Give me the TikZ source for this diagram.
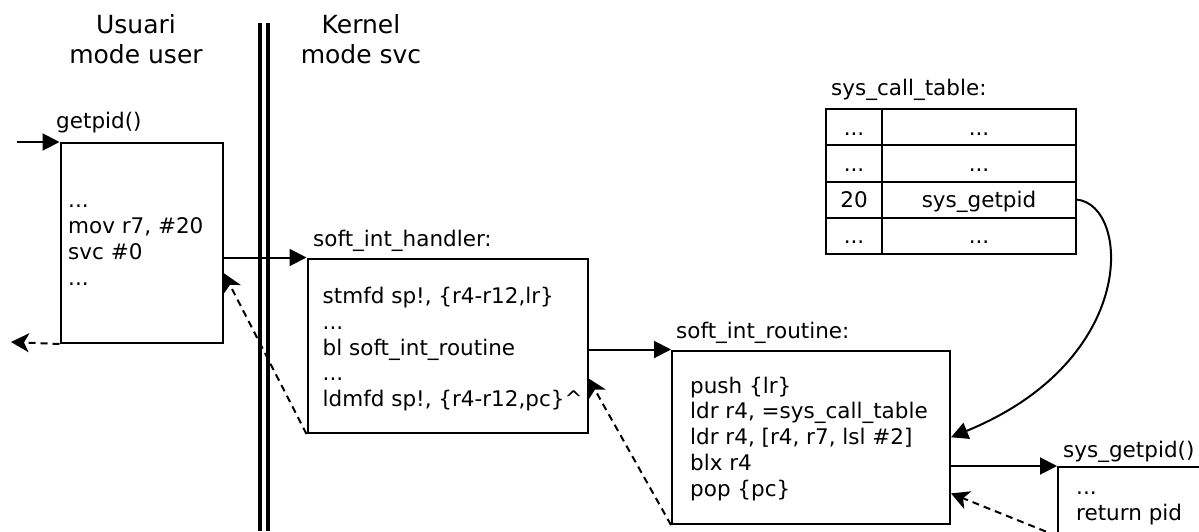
\documentclass[tikz,border=0pt]{standalone}
\usepackage{fontspec}
\setmainfont{DejaVu Sans}
\usetikzlibrary{arrows.meta,calc}

\tikzset{
  codefont/.style={font=\fontsize{21.5}{25.7}\selectfont},
  titlefont/.style={font=\fontsize{25}{30}\selectfont},
  codebox/.style={draw, line width=2pt, rectangle, inner sep=0pt, anchor=north west},
  % multi-line blocks: the base anchor sits on the last line
  codetext/.style={codefont, align=left, inner sep=0pt, anchor=base west},
  boxlabel/.style={codefont, inner sep=0pt, anchor=base west},
  title/.style={titlefont, align=center, inner sep=0pt, anchor=base},
  cell/.style={draw, line width=2pt, rectangle, inner sep=0pt, anchor=north west,
    minimum height=36.25pt, codefont, text height=16pt, text depth=0pt},
  flow/.style={line width=2pt, -{Triangle[length=17pt,width=17pt]}},
  back/.style={line width=2pt, dash pattern=on 7pt off 5pt,
    -{Stealth[length=18pt,width=19pt,inset=5pt]}},
  divider/.style={line width=4pt},
}

\begin{document}
\begin{tikzpicture}[x=1pt,y=-1pt]
\useasboundingbox (0,0) rectangle (1199,531);
\fill[white] (0,0) rectangle (1199,531);
\clip (0,0) rectangle (1199,531);

% column titles
\node[title] (tuser) at (136,63) {Usuari\\mode user};
\node[title] (tkern) at (361,63) {Kernel\\mode svc};

% user / kernel boundary
\draw[divider] (260,23) -- (260,531);
\draw[divider] (268,23) -- (268,531);

% getpid()
\node[codebox, minimum width=162.5pt, minimum height=200pt] (getpid) at (59.5,142) {};
\node[boxlabel] (getpidlbl) at (56,128) {getpid()};
\node[codetext] (getpidtxt) at (68,285) {...\\mov r7, \#20\\svc \#0\\...};

% soft_int_handler
\node[codebox, minimum width=280pt, minimum height=174.5pt] (handler) at (306.5,257.5) {};
\node[boxlabel] (handlerlbl) at (313,246) {soft\_int\_handler:};
\node[codetext] (handlertxt) at (322.5,406.5) {stmfd sp!, \{r4-r12,lr\}\\...\\bl soft\_int\_routine\\...\\ldmfd sp!, \{r4-r12,pc\}\textasciicircum};

% soft_int_routine
\node[codebox, minimum width=278pt, minimum height=173.5pt] (routine) at (671,349.5) {};
\node[boxlabel] (routinelbl) at (676,338) {soft\_int\_routine:};
\node[codetext] (routinetxt) at (690,496) {push \{lr\}\\ldr r4, =sys\_call\_table\\ldr r4, [r4, r7, lsl \#2]\\blx r4\\pop \{pc\}};

% sys_getpid()
\node[codebox, minimum width=180pt, minimum height=68pt] (sysgetpid) at (1057,466) {};
\node[boxlabel] (sysgetpidlbl) at (1063,457) {sys\_getpid()};
\node[codetext] (sysgetpidtxt) at (1076,520.5) {...\\return pid};

% sys_call_table
\node[boxlabel] (tablelbl) at (831,95) {sys\_call\_table:};
\node[cell, minimum width=56pt]  (t11) at (825,108) {...};
\node[cell, minimum width=194pt] (t12) at (881,108) {...};
\node[cell, minimum width=56pt]  (t21) at (825,144.25) {...};
\node[cell, minimum width=194pt] (t22) at (881,144.25) {...};
\node[cell, minimum width=56pt]  (t31) at (825,180.5) {20};
\node[cell, minimum width=194pt] (t32) at (881,180.5) {sys\_getpid};
\node[cell, minimum width=56pt]  (t41) at (825,216.75) {...};
\node[cell, minimum width=194pt] (t42) at (881,216.75) {...};

% free ends and return points
\coordinate (callin) at (17,142);
\coordinate (retout) at (11,342);
\coordinate (ret1) at ($(getpid.north east)!0.65!(getpid.south east)$);
\coordinate (ret2) at ($(handler.north east)!0.685!(handler.south east)$);
\coordinate (ret3) at ($(routine.north east)!0.82!(routine.south east)$);

% calls
\draw[flow] (callin) -- (getpid.north west);
\draw[flow] (handler.north west -| getpid.east) -- (handler.north west);
\draw[flow] (routine.north west -| handler.east) -- (routine.north west);
\draw[flow] (sysgetpid.north west -| routine.east) -- (sysgetpid.north west);
\draw[flow] (t32.east) .. controls (1130,205) and (1140,360) .. (routine.east);

% returns
\draw[back] (getpid.south west) -- (retout);
\draw[back] (handler.south west) -- (ret1);
\draw[back] (routine.south west) -- (ret2);
\draw[back] (sysgetpid.south west) -- (ret3);
\end{tikzpicture}
\end{document}
